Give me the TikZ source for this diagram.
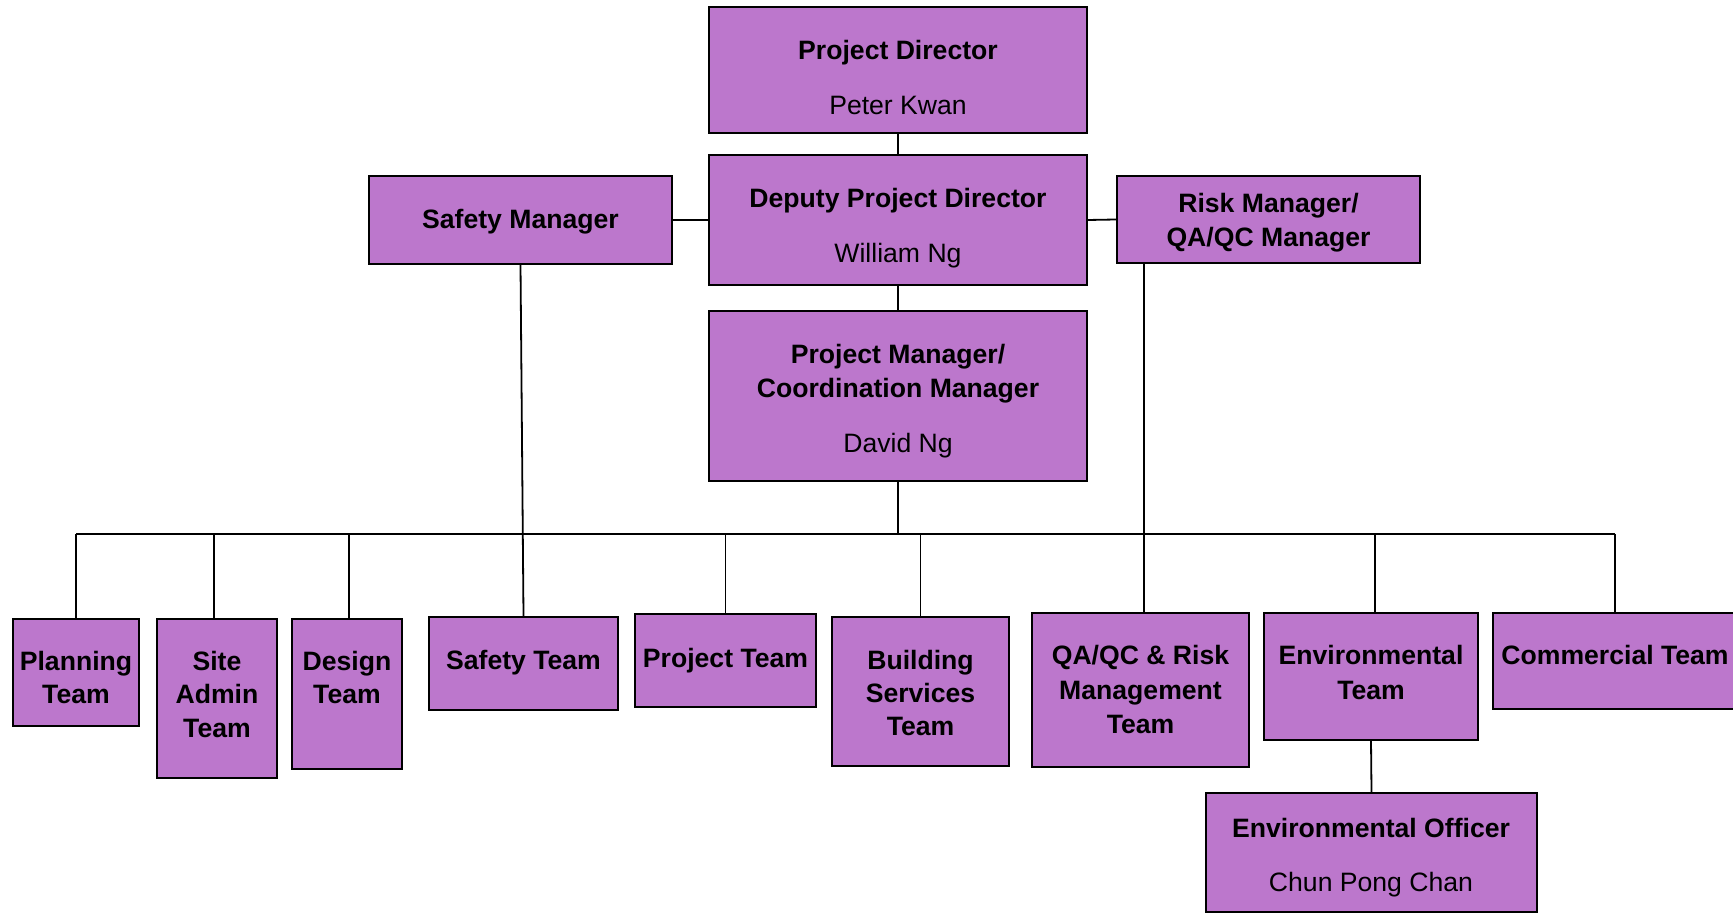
\documentclass[tikz,border=0pt]{standalone}
\usepackage{fontspec}
\setmainfont{Liberation Sans}
\usetikzlibrary{fit}
\definecolor{boxfill}{RGB}{188,119,204}
\begin{document}
\begin{tikzpicture}[x=0.5pt,y=-0.5pt,
  box/.style={draw=black, line width=1pt, fill=boxfill, inner sep=0pt},
  ttl/.style={inner sep=0pt, anchor=base, font=\fontsize{13.3}{16}\selectfont\bfseries},
  nm/.style={inner sep=0pt, anchor=base, font=\fontsize{13.3}{16}\selectfont},
  conn/.style={draw=black, line width=0.9pt}]
\useasboundingbox[fill=white] (0,0) rectangle (1733,913);

% connectors first (boxes drawn on top)
\coordinate (busL) at (76,534);
\coordinate (busR) at (1615,534);

% boxes
\node[box, fit={(709,7) (1087,133)}] (pd) {};
\node[box, fit={(709,155) (1087,285)}] (dpd) {};
\node[box, fit={(369,176) (672,264)}] (sm) {};
\node[box, fit={(1117,176) (1420,263)}] (rm) {};
\node[box, fit={(709,311) (1087,481)}] (pm) {};
\node[box, fit={(13,619) (139,726)}] (plan) {};
\node[box, fit={(157,619) (277,778)}] (site) {};
\node[box, fit={(292,619) (402,769)}] (design) {};
\node[box, fit={(429,617) (618,710)}] (st) {};
\node[box, fit={(635,614) (816,707)}] (pt) {};
\node[box, fit={(832,617) (1009,766)}] (bs) {};
\node[box, fit={(1032,613) (1249,767)}] (qa) {};
\node[box, fit={(1264,613) (1478,740)}] (env) {};
\node[box, fit={(1493,613) (1737,709)}] (com) {};
\node[box, fit={(1206,793) (1537,912)}] (eo) {};

% connectors
\draw[conn] (pd.south) -- (dpd.north);
\draw[conn] (dpd.south) -- (pm.north);
\draw[conn] (dpd.west) -- (sm.east);
\draw[conn] (dpd.east) -- (rm.west);
\draw[conn] (pm.south) -- (pm.south |- busL);
\draw[conn] (busL) -- (busR);
\draw[conn] (sm.south) -- (st.north);
\draw[conn] ([xshift=1.75pt]qa.north |- rm.south) -- ([xshift=1.75pt]qa.north);
\draw[conn] (busL) -- (plan.north);
\draw[conn] ([xshift=-1.5pt]site.north |- busL) -- ([xshift=-1.5pt]site.north);
\draw[conn] ([xshift=1pt]design.north |- busL) -- ([xshift=1pt]design.north);
\draw[conn] (pt.north |- busL) -- (pt.north);
\draw[conn] (bs.north |- busL) -- (bs.north);
\draw[conn] ([xshift=2pt]env.north |- busL) -- ([xshift=2pt]env.north);
\draw[conn] (busR) -- (busR |- com.north);
\draw[conn] (env.south) -- (eo.north);

% texts
\node[ttl] (pd-t) at (898,60) {Project Director};
\node[nm]  (pd-n) at (898,115) {Peter Kwan};
\node[ttl] (dpd-t) at (898,207.5) {Deputy Project Director};
\node[nm]  (dpd-n) at (898,262.5) {William Ng};
\node[ttl] (sm-t) at (520.5,229) {Safety Manager};
\node[ttl] (rm-t1) at (1268.5,212.5) {Risk Manager/};
\node[ttl] (rm-t2) at (1268.5,246.5) {QA/QC Manager};
\node[ttl] (pm-t1) at (898,363.5) {Project Manager/};
\node[ttl] (pm-t2) at (898,397.5) {Coordination Manager};
\node[nm]  (pm-n) at (898,452.5) {David Ng};

\node[ttl] (plan-t1) at (76,670.5) {Planning};
\node[ttl] (plan-t2) at (76,703.5) {Team};
\node[ttl] (site-t1) at (217,670.5) {Site};
\node[ttl] (site-t2) at (217,703.5) {Admin};
\node[ttl] (site-t3) at (217,737.5) {Team};
\node[ttl] (design-t1) at (347,670.5) {Design};
\node[ttl] (design-t2) at (347,703.5) {Team};
\node[ttl] (st-t) at (523.5,669.5) {Safety Team};
\node[ttl] (pt-t) at (725.5,667.5) {Project Team};
\node[ttl] (bs-t1) at (920.5,669.5) {Building};
\node[ttl] (bs-t2) at (920.5,702.5) {Services};
\node[ttl] (bs-t3) at (920.5,735.5) {Team};
\node[ttl] (qa-t1) at (1140.5,664.5) {QA/QC \& Risk};
\node[ttl] (qa-t2) at (1140.5,699.5) {Management};
\node[ttl] (qa-t3) at (1140.5,733.5) {Team};
\node[ttl] (env-t1) at (1371,664.5) {Environmental};
\node[ttl] (env-t2) at (1371,699.5) {Team};
\node[ttl] (com-t) at (1615,664.5) {Commercial Team};
\node[ttl] (eo-t) at (1371,837.5) {Environmental Officer};
\node[nm]  (eo-n) at (1371,891.5) {Chun Pong Chan};
\end{tikzpicture}
\end{document}
